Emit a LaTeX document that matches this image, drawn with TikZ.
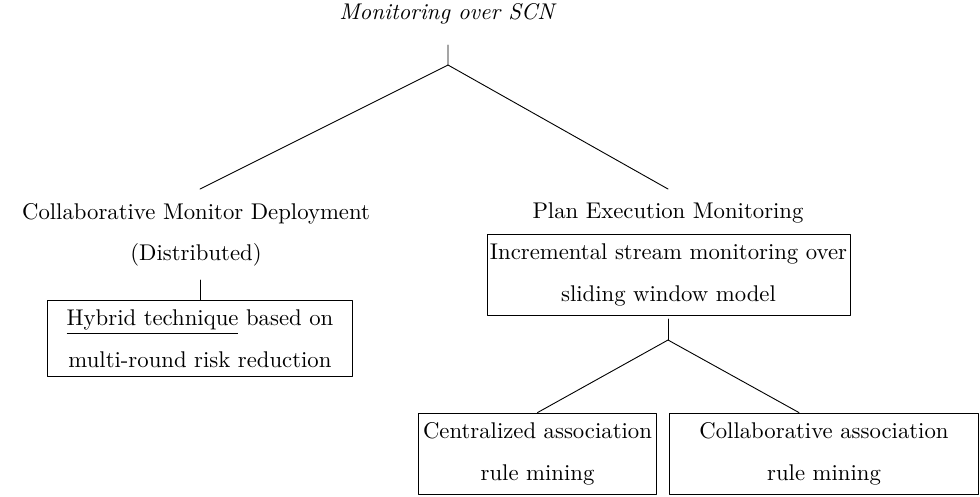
\documentclass[tikz,border=0pt]{standalone}
\usetikzlibrary{positioning}
\begin{document}
\begin{tikzpicture}[x=0.44pt, y=-0.44pt, line join=round, line cap=round,
    lbl/.style={align=center, inner sep=0pt, font={\fontsize{10}{18}\selectfont}},
    leaf/.style={draw, align=center, inner xsep=2pt, inner ysep=4pt, font={\fontsize{10}{18.5}\selectfont}}]
    \useasboundingbox (0,0) rectangle (980,496);
    % root
    \node[lbl] (root) at (448,14) {\textit{Monitoring over SCN}};
    \coordinate (rtop) at (448,45);
    \coordinate (rfork) at (448,65);
    \coordinate (lend) at (200,189);
    \coordinate (rend) at (668,189);
    \draw (rtop)--(rfork)--(lend);
    \draw (rfork)--(rend);
    % left branch
    \node[lbl] (cmd) at (196,235) {Collaborative Monitor Deployment\\(Distributed)};
    \node[leaf, text width=130pt] (hyb) at (200,338.5) {\underline{Hybrid technique} based on\\multi-round risk reduction};
    \coordinate (hstub) at (200,280);
    \draw (hstub)--(hyb.north);
    % right branch
    \node[lbl] (pem) at (668,213) {Plan Execution Monitoring};
    \node[leaf, inner xsep=0.6pt, text width=158.5pt] (incr) at (668.5,275) {Incremental stream monitoring over\\sliding window model};
    \coordinate (pstub) at (668,319);
    \coordinate (pfork) at (668,340);
    \draw (pstub)--(pfork);
    \node[leaf, text width=101pt] (cam) at (537.5,453.5) {Centralized association\\rule mining};
    \node[leaf, text width=132pt] (colab) at (824,453.5) {Collaborative association\\rule mining};
    \draw (pfork)--(cam.north);
    \draw (pfork)--([xshift=-11pt]colab.north);
\end{tikzpicture}
\end{document}
